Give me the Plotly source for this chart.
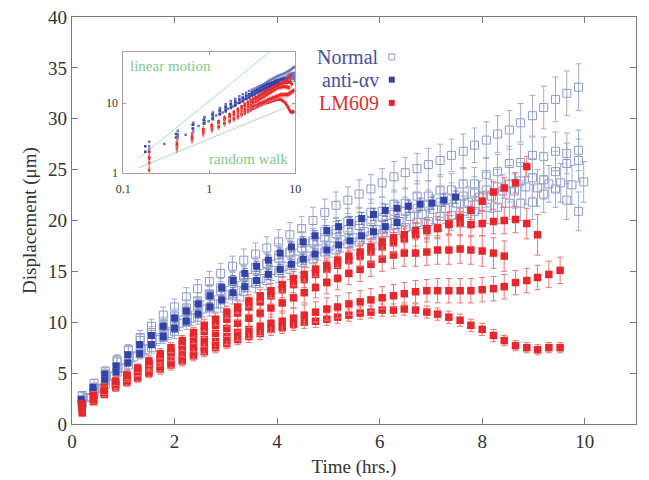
import plotly.graph_objects as go

# ---------------- data ----------------
T_LM = [0.20,0.42,0.63,0.85,1.07,1.28,1.50,1.72,1.93,2.15,
        2.37,2.58,2.80,3.02,3.23,3.45,3.67,3.88,4.10,4.32,
        4.53,4.75,4.97,5.18,5.40,5.62,5.83,6.05,6.27,6.48,
        6.70,6.92,7.13,7.35,7.57,7.78,8.00,8.22,8.43,8.65,
        8.87,9.08,9.30,9.52]
LM_A = [1.1,2.2,2.9,3.6,4.1,4.5,5.0,5.4,5.8,6.2,
        6.7,7.1,7.5,7.9,8.3,8.6,8.9,9.3,9.5,9.8,
        10.0,10.1,10.3,10.5,10.7,10.9,11.0,11.2,11.2,11.3,
        11.2,11.0,10.8,10.5,10.2,9.7,9.3,8.7,8.2,7.7,
        7.5,7.3,7.5,7.5]
LM_B = [1.4,2.4,3.1,3.8,4.3,4.7,5.2,5.7,6.1,6.6,
        7.1,7.6,8.1,8.6,9.0,9.3,9.6,9.9,10.1,10.4,
        10.7,11.0,11.3,11.5,11.8,12.0,12.2,12.4,12.6,12.8,
        13.0,13.1,13.1,13.1,13.1,13.1,13.2,13.3,13.5,13.9,
        14.1,14.4,14.7,15.1]
LM_C = [1.7,2.8,3.6,4.2,4.8,5.3,5.8,6.3,6.8,7.3,
        7.8,8.3,8.9,9.4,9.9,10.4,10.9,11.4,11.9,12.4,
        12.9,13.4,13.9,14.3,14.8,15.2,15.7,16.2,16.6,16.8,
        16.8,16.9,17.1,17.1,17.2,17.1,17.0,16.8,16.5]
LM_D = [1.6,2.5,3.1,3.9,4.6,5.2,5.9,6.5,7.1,7.8,
        8.5,9.1,9.7,10.3,10.9,11.5,12.0,12.6,13.2,13.7,
        14.2,14.7,15.2,15.6,16.1,16.5,16.9,17.4,17.8,18.2,
        18.6,19.0,19.3,19.7,19.7,19.6,19.7,19.9,20.0,20.1,
        19.7,18.6]
LM_E = [2.0,2.6,3.3,4.2,4.8,5.5,6.2,6.9,7.5,8.2,
        9.0,9.7,10.3,11.0,11.5,12.1,12.6,13.1,13.7,14.3,
        14.7,15.2,15.6,16.1,16.5,16.9,17.4,17.9,18.3,18.6,
        19.0,19.2,19.2,19.6,20.3,21.0,21.9,22.8,23.2,23.7,
        25.3]
ERR_LM_A = [0.3,0.3,0.3,0.4,0.4,0.4,0.4,0.5,0.5,0.5,0.5,0.5,0.5,0.5,0.5,0.6,0.6,0.6,0.6,0.6,0.6,0.6,
            0.6,0.6,0.6,0.6,0.6,0.6,0.6,0.6,0.6,0.6,0.6,0.6,0.6,0.6,0.6,0.6,0.5,0.5,0.5,0.5,0.5,0.5]
ERR_LM_B = [0.3,0.4,0.4,0.5,0.5,0.5,0.6,0.6,0.6,0.7,0.7,0.7,0.8,0.8,0.8,0.9,0.9,0.9,1.0,1.0,1.0,1.0,
            1.1,1.1,1.1,1.1,1.1,1.1,1.1,1.1,1.1,1.1,1.2,1.2,1.2,1.2,1.2,1.2,1.2,1.2,1.2,1.2,1.3,1.3]
ERR_LM_C = [0.3,0.4,0.4,0.5,0.5,0.5,0.6,0.6,0.6,0.7,0.7,0.7,0.8,0.8,0.8,0.9,0.9,0.9,1.0,1.0,
            1.0,1.0,1.1,1.1,1.1,1.2,1.2,1.2,1.3,1.3,1.3,1.3,1.4,1.4,1.4,1.4,1.5,1.5,1.5]
ERR_LM_D = [0.3,0.3,0.4,0.4,0.4,0.5,0.5,0.5,0.5,0.6,0.6,0.6,0.6,0.7,0.7,0.7,0.7,0.8,0.8,0.8,0.8,
            0.9,0.9,0.9,0.9,1.0,1.0,1.0,1.0,1.0,1.1,1.1,1.1,1.1,1.2,1.2,1.2,1.2,1.3,1.3,1.5,2.0]
ERR_LM_E = [0.3,0.3,0.4,0.4,0.4,0.4,0.5,0.5,0.5,0.5,0.5,0.6,0.6,0.6,0.6,0.6,0.6,0.7,0.7,0.7,0.7,
            0.7,0.7,0.7,0.8,0.8,0.8,0.8,0.8,0.8,0.8,0.9,0.9,0.9,0.9,0.9,0.9,1.0,1.0,1.0,1.0]

T_N = [0.20,0.43,0.65,0.88,1.10,1.33,1.55,1.78,2.00,2.23,
       2.45,2.68,2.90,3.13,3.35,3.58,3.80,4.03,4.25,4.48,
       4.70,4.93,5.15,5.38,5.60,5.83,6.05,6.28,6.50,6.73,
       6.95,7.18,7.40,7.63,7.85,8.08,8.30,8.53,8.75,8.98,
       9.20,9.43,9.65,9.88]
T_N3 = [0.30,0.53,0.75,0.98,1.20,1.43,1.65,1.88,2.10,2.33,
        2.55,2.78,3.00,3.23,3.45,3.68,3.90,4.13,4.35,4.58,
        4.80,5.03,5.25,5.48,5.70,5.93,6.15,6.38,6.60,6.83,
        7.05,7.28,7.50,7.73,7.95,8.18,8.40,8.63,8.85,9.08,
        9.30,9.53,9.75,9.98]
N1 = [2.4,3.6,4.9,6.1,7.2,8.5,9.6,10.7,11.5,12.5,
      13.3,14.0,14.8,15.5,16.1,16.7,17.3,17.9,18.6,19.2,
      20.0,20.8,21.5,22.0,22.6,23.1,23.7,24.3,24.7,25.1,
      25.5,25.9,26.4,26.8,27.4,27.9,28.5,28.9,29.6,30.3,
      31.1,31.9,32.5,33.1]
N2 = [2.2,3.4,4.3,5.5,6.3,7.5,8.2,9.4,9.9,11.0,
      11.6,12.7,13.1,14.1,14.5,15.4,15.7,16.6,16.9,17.8,
      18.0,18.9,19.1,19.9,20.0,20.8,20.9,21.6,21.7,22.4,
      22.4,23.0,23.0,23.6,23.6,24.5,24.8,25.6,25.7,26.4,
      26.3,26.8,26.6,26.9]
N3 = [2.6,3.5,4.7,5.5,6.6,7.3,8.3,8.9,9.9,10.4,
      11.3,11.8,12.7,13.1,13.9,14.3,15.1,15.5,16.2,16.5,
      17.2,17.5,18.1,18.3,18.9,19.1,19.7,19.9,20.4,20.6,
      21.1,21.2,21.7,21.8,22.3,22.4,22.9,22.9,23.3,23.2,
      23.6,23.7,23.5,23.8]
N4 = [2.0,3.1,3.9,5.1,5.8,6.9,7.5,8.5,9.1,10.0,
      10.5,11.4,11.8,12.6,13.0,13.8,14.1,14.9,15.2,15.9,
      16.2,16.9,17.1,17.7,17.9,18.5,18.7,19.2,19.3,19.8,
      19.9,20.4,20.5,20.9,20.9,21.3,21.3,21.7,21.7,21.8,
      22.6,23.1,22.0,20.9]
N5 = [2.8,4.0,5.2,6.3,7.3,8.2,9.0,9.8,10.6,11.4,
      12.1,12.8,13.4,14.0,14.6,15.2,15.8,16.3,16.8,17.3,
      17.8,18.3,18.7,19.1,19.5,19.9,20.3,20.6,20.9,21.2,
      21.5,21.8,22.1,22.4,22.7,23.0,23.3,23.6,23.9,24.2,
      24.0,24.8,25.6,25.9]
ERR_N1 = [0.3,0.4,0.5,0.5,0.6,0.7,0.7,0.8,0.8,0.9,0.9,1.0,1.0,1.0,1.1,1.1,1.1,1.2,1.2,1.2,1.3,1.3,
          1.3,1.3,1.4,1.4,1.4,1.5,1.5,1.5,1.6,1.6,1.6,1.7,1.7,1.8,1.8,1.9,1.9,2.0,2.1,2.2,2.2,2.3]
ERR_N2 = [0.3,0.3,0.4,0.5,0.5,0.6,0.6,0.7,0.7,0.8,0.8,0.8,0.9,0.9,1.0,1.0,1.0,1.1,1.1,1.1,1.2,1.2,
          1.2,1.3,1.3,1.3,1.4,1.4,1.4,1.5,1.5,1.5,1.6,1.6,1.6,1.7,1.7,1.7,1.8,1.8,1.9,1.9,2.0,2.0]
ERR_N3 = [0.3,0.3,0.4,0.4,0.5,0.5,0.6,0.6,0.7,0.7,0.8,0.8,0.8,0.9,0.9,0.9,1.0,1.0,1.0,1.1,1.1,1.1,
          1.2,1.2,1.2,1.3,1.3,1.3,1.4,1.4,1.4,1.5,1.5,1.5,1.6,1.6,1.6,1.7,1.7,1.8,1.8,1.9,1.9,2.0]
ERR_N4 = [0.3,0.3,0.4,0.4,0.5,0.5,0.6,0.6,0.7,0.7,0.7,0.8,0.8,0.8,0.9,0.9,0.9,1.0,1.0,1.0,1.1,1.1,
          1.1,1.2,1.2,1.2,1.3,1.3,1.3,1.4,1.4,1.4,1.5,1.5,1.5,1.6,1.6,1.6,1.7,1.7,1.8,1.8,1.9,1.9]
ERR_N5 = [0.3,0.4,0.4,0.5,0.5,0.6,0.6,0.7,0.7,0.8,0.8,0.9,0.9,0.9,1.0,1.0,1.0,1.1,1.1,1.1,1.2,1.2,
          1.2,1.3,1.3,1.3,1.4,1.4,1.4,1.5,1.5,1.5,1.6,1.6,1.6,1.7,1.7,1.8,1.8,1.9,1.9,2.0,2.0,2.1]

T_A = [0.18,0.41,0.64,0.86,1.09,1.32,1.55,1.78,2.00,2.23,
       2.46,2.69,2.92,3.14,3.37,3.60,3.83,4.06,4.28,4.51,
       4.74,4.97,5.20,5.42,5.65,5.88,6.11,6.34,6.56,6.79,
       7.02,7.25,7.48]
A1 = [2.4,3.6,4.9,5.7,6.8,7.8,8.7,9.6,10.4,11.1,
      11.8,12.6,13.4,14.1,14.8,15.5,16.1,16.8,17.4,17.9,
      18.5,19.0,19.4,19.8,20.2,20.6,21.0,21.2,21.4,21.6,
      21.7,22.0,22.3]
A2 = [2.0,3.2,4.3,5.1,6.0,6.9,7.8,8.6,9.4,10.1,
      10.8,11.5,12.2,12.9,13.5,14.1,14.7,15.2,15.7,16.2,
      16.7,17.1,17.6,18.0,18.5,18.9,19.4,19.8]
ERR_A1 = [0.2,0.2,0.3,0.3,0.3,0.3,0.3,0.4,0.4,0.4,0.4,0.4,0.4,0.5,0.5,0.5,0.5,0.5,0.5,0.5,
          0.5,0.5,0.6,0.6,0.6,0.6,0.6,0.6,0.6,0.6,0.6,0.6,0.6]
ERR_A2 = [0.2,0.2,0.3,0.3,0.3,0.3,0.3,0.4,0.4,0.4,0.4,0.4,0.4,0.5,0.5,0.5,0.5,0.5,0.5,0.5,
          0.5,0.5,0.6,0.6,0.6,0.6,0.6,0.6]

# inset reference lines (slope 1 and slope 1/2)
LIN_X = [0.15, 5.0]
LIN_Y = [1.6, 53.5]
RW_X = [0.15, 9.6]
RW_Y = [1.18, 9.6]

LEGEND_LABELS = ["Normal", "anti-\u03b1v", "LM609"]

# ---------------- styles ----------------
C_NORM = "#8e9acb"
C_NORM_ERR = "#a3acd2"
C_ANTI = "#3243a6"
C_RED = "#e8272b"
C_RED_ERR = "#ef7474"
SERIF = "Liberation Serif"

fig = go.Figure()

normal = [(T_N, N1, ERR_N1), (T_N, N2, ERR_N2), (T_N3, N3, ERR_N3), (T_N, N4, ERR_N4), (T_N, N5, ERR_N5)]
anti = [(T_A, A1, ERR_A1), (T_A, A2, ERR_A2)]
lm = [(T_LM, LM_A, ERR_LM_A), (T_LM, LM_B, ERR_LM_B), (T_LM, LM_C, ERR_LM_C),
      (T_LM, LM_D, ERR_LM_D), (T_LM, LM_E, ERR_LM_E)]

for t, v, e in normal:
    fig.add_trace(go.Scatter(x=t[:len(v)], y=v, mode="markers",
                             marker=dict(symbol="square-open", size=8, color=C_NORM, line=dict(width=1)),
                             error_y=dict(type="data", array=e, color=C_NORM_ERR, thickness=1, width=3)))
for t, v, e in anti:
    fig.add_trace(go.Scatter(x=t[:len(v)], y=v, mode="markers",
                             marker=dict(symbol="square", size=7, color=C_ANTI),
                             error_y=dict(type="data", array=e, color="#6f7cc0", thickness=1, width=3)))
for t, v, e in lm:
    fig.add_trace(go.Scatter(x=t[:len(v)], y=v, mode="markers",
                             marker=dict(symbol="square", size=7.5, color=C_RED),
                             error_y=dict(type="data", array=e, color=C_RED_ERR, thickness=1, width=3)))

# inset
fig.add_trace(go.Scatter(x=LIN_X, y=LIN_Y, mode="lines", line=dict(color="#a9dcb2", width=1),
                         xaxis="x2", yaxis="y2"))
fig.add_trace(go.Scatter(x=RW_X, y=RW_Y, mode="lines", line=dict(color="#a9dcb2", width=1),
                         xaxis="x2", yaxis="y2"))
for t, v, e in normal:
    fig.add_trace(go.Scatter(x=t[:len(v)], y=v, mode="markers", xaxis="x2", yaxis="y2",
                             marker=dict(symbol="square", size=2.5, color="#6a77bd")))
for t, v, e in anti:
    fig.add_trace(go.Scatter(x=t[:len(v)], y=v, mode="markers", xaxis="x2", yaxis="y2",
                             marker=dict(symbol="square", size=2.5, color=C_ANTI)))
for t, v, e in lm:
    fig.add_trace(go.Scatter(x=t[:len(v)], y=v, mode="markers", xaxis="x2", yaxis="y2",
                             marker=dict(symbol="square", size=2.5, color=C_RED),
                             error_y=dict(type="data", array=e, color=C_RED_ERR, thickness=1, width=0)))

axis_common = dict(showline=True, linecolor="#7a7a7a", linewidth=1.2, mirror="ticks",
                   ticks="inside", ticklen=6, tickcolor="#7a7a7a", showgrid=False, zeroline=False,
                   tickfont=dict(family=SERIF, size=19, color="#333"))

fig.update_layout(
    width=649, height=480,
    margin=dict(l=72, r=7, t=17, b=56),
    paper_bgcolor="white", plot_bgcolor="white",
    showlegend=False,
    font=dict(family=SERIF, color="#333"),
    xaxis=dict(range=[0, 11], tickvals=[0, 2, 4, 6, 8, 10],
               title=dict(text="Time (hrs.)", font=dict(family=SERIF, size=19, color="#333"), standoff=8),
               **axis_common),
    yaxis=dict(range=[0, 40], tickvals=[0, 5, 10, 15, 20, 25, 30, 35, 40],
               title=dict(text="Displacement (\u03bcm)", font=dict(family=SERIF, size=19, color="#333"), standoff=6),
               **axis_common),
    xaxis2=dict(type="log", range=[-1, 1], domain=[0.091, 0.396], anchor="y2",
                tickvals=[0.1, 1, 10], ticktext=["0.1", "1", "10"], ticklabelstandoff=5,
                showline=True, linecolor="#b59c9c", linewidth=1, mirror="ticks",
                ticks="inside", ticklen=3, tickcolor="#999", showgrid=False, zeroline=False,
                tickfont=dict(family=SERIF, size=12, color="#333")),
    yaxis2=dict(type="log", range=[0, 1.73], domain=[0.617, 0.914], anchor="x2",
                tickvals=[1, 10], ticktext=["1", "10"], ticklabelstandoff=2,
                showline=True, linecolor="#b59c9c", linewidth=1, mirror="ticks",
                ticks="inside", ticklen=3, tickcolor="#999", showgrid=False, zeroline=False,
                tickfont=dict(family=SERIF, size=12, color="#333")),
)

# inset labels
fig.add_annotation(xref="x2 domain", yref="y2 domain", x=0.03, y=0.97, xanchor="left", yanchor="top",
                   text="linear motion", showarrow=False,
                   font=dict(family=SERIF, size=15, color="#7fc98c"))
fig.add_annotation(xref="x2 domain", yref="y2 domain", x=0.97, y=0.03, xanchor="right", yanchor="bottom",
                   text="random walk", showarrow=False,
                   font=dict(family=SERIF, size=15, color="#7fc98c"))

# legend (text then marker)
leg_colors = ["#4650a2", "#4650a2", "#e0302c"]
leg_y = [0.902, 0.846, 0.789]
for lab, col, yy in zip(LEGEND_LABELS, leg_colors, leg_y):
    fig.add_annotation(xref="paper", yref="paper", x=0.548, y=yy, xanchor="right", yanchor="middle",
                       text=lab, showarrow=False, font=dict(family=SERIF, size=20, color=col))
mk_w, mk_h = 0.0105, 0.0147
fig.add_shape(type="rect", xref="paper", yref="paper", x0=0.567 - mk_w / 2, x1=0.567 + mk_w / 2,
              y0=leg_y[0] - mk_h / 2, y1=leg_y[0] + mk_h / 2, line=dict(color=C_NORM, width=1),
              fillcolor="rgba(0,0,0,0)")
fig.add_shape(type="rect", xref="paper", yref="paper", x0=0.567 - mk_w / 2, x1=0.567 + mk_w / 2,
              y0=leg_y[1] - mk_h / 2, y1=leg_y[1] + mk_h / 2, line=dict(color=C_ANTI, width=0),
              fillcolor=C_ANTI)
fig.add_shape(type="rect", xref="paper", yref="paper", x0=0.567 - mk_w / 2, x1=0.567 + mk_w / 2,
              y0=leg_y[2] - mk_h / 2, y1=leg_y[2] + mk_h / 2, line=dict(color=C_RED, width=0),
              fillcolor=C_RED)

fig.write_html("out.html")
